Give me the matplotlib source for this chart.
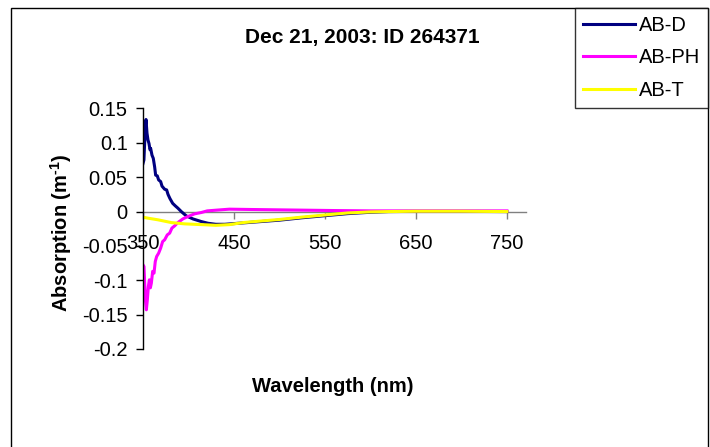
import matplotlib
matplotlib.use("Agg")
import matplotlib.pyplot as plt
from matplotlib.patches import Rectangle

plt.rcParams['font.family'] = ['Liberation Sans', 'DejaVu Sans']
plt.rcParams['mathtext.fontset'] = 'custom'
plt.rcParams['mathtext.rm'] = 'Liberation Sans:bold'
plt.rcParams['mathtext.bf'] = 'Liberation Sans:bold'

title = "Dec 21, 2003: ID 264371"
xlabel = "Wavelength (nm)"
ylabel = "Absorption (m$^{\\text{-1}}$)"
x_ticks = [350, 450, 550, 650, 750]
y_ticks = [0.15, 0.1, 0.05, 0, -0.05, -0.1, -0.15, -0.2]
y_tick_labels = ["0.15", "0.1", "0.05", "0", "-0.05", "-0.1", "-0.15", "-0.2"]

wl_d = [350, 351, 352.6, 353.3, 354.4, 355.5, 356.6, 357.7, 358.4, 359.9, 361.3, 362.8, 363.9,
        365.7, 367.2, 369.4, 370.9, 373.8, 376, 377.5, 379.6, 382.6, 385.5, 388.4, 392.1,
        397.6, 404.9, 414, 421.4, 430, 440, 460, 500, 525, 550, 575, 600, 620, 650, 700, 750]
ab_d = [0.070, 0.075, 0.124, 0.134, 0.114, 0.104, 0.099, 0.090, 0.092, 0.082, 0.0775, 0.065,
        0.053, 0.052, 0.046, 0.0437, 0.037, 0.0325, 0.0315, 0.025, 0.019, 0.012, 0.0083,
        0.0049, 0.0, -0.0063, -0.0107, -0.0145, -0.017, -0.0185, -0.0185, -0.0165, -0.0125,
        -0.009, -0.006, -0.003, -0.001, 0.0, 0.0003, 0.0003, 0.0]

wl_ph = [350, 351.1, 352.6, 353.7, 354.8, 355.9, 357, 358.1, 359.2, 360.6, 362.1, 363.5, 365,
         367.2, 369.4, 371.6, 373.8, 376.7, 379.3, 381.8, 384.8, 388.4, 393.9, 399.4, 406.7,
         414, 420.6, 430, 445, 470, 500, 530, 560, 600, 650, 700, 750]
ab_ph = [-0.0775, -0.080, -0.128, -0.143, -0.128, -0.109, -0.0993, -0.111, -0.104, -0.087,
         -0.0896, -0.0726, -0.0654, -0.0605, -0.0532, -0.0436, -0.0411, -0.0339, -0.0314,
         -0.024, -0.0208, -0.0159, -0.0106, -0.0072, -0.0033, -0.0014, 0.001, 0.002, 0.0035,
         0.003, 0.0025, 0.002, 0.0015, 0.001, 0.001, 0.001, 0.001]

wl_t = [350, 355.5, 366.5, 381.1, 395.8, 419.5, 430, 445, 460, 500, 525, 550, 575, 600, 620,
        650, 700, 750]
ab_t = [-0.0082, -0.0096, -0.012, -0.016, -0.0179, -0.0193, -0.020, -0.019, -0.016, -0.0115,
        -0.008, -0.005, -0.002, -0.0005, 0.0, 0.0005, 0.0005, 0.0]

W, H = 710, 447
FS = 14.5
fig = plt.figure(figsize=(W / 100, H / 100), dpi=100)
fig.patch.set_facecolor('white')

# chart border
fig.add_artist(Rectangle((10.5 / W, -0.05), (708 - 10.5) / W, 1.05 - 8 / H,
                         transform=fig.transFigure, fill=False, edgecolor='black', lw=1.0))

ax = fig.add_axes([143 / W, 1 - 349 / H, (526 - 143) / W, (349 - 108.5) / H])
ax.set_facecolor('none')

l1, = ax.plot(wl_d, ab_d, color='#000080', lw=2.2, label='AB-D')
l2, = ax.plot(wl_ph, ab_ph, color='#FF00FF', lw=2.2, label='AB-PH')
l3, = ax.plot(wl_t, ab_t, color='#FFFF00', lw=2.2, label='AB-T')

ax.set_xlim(350, 771)
ax.set_ylim(-0.2, 0.15)
ax.set_xticks(x_ticks)
ax.set_xticklabels([str(v) for v in x_ticks])
ax.set_yticks(y_ticks)
ax.set_yticklabels(y_tick_labels)

for s in ['top', 'right']:
    ax.spines[s].set_visible(False)
ax.spines['bottom'].set_position(('data', 0))
ax.spines['bottom'].set_color('#808080')
ax.spines['bottom'].set_linewidth(1.0)
ax.spines['left'].set_color('black')
ax.spines['left'].set_linewidth(1.0)
ax.spines['bottom'].set_zorder(1)

ax.tick_params(axis='x', direction='out', length=5, width=1.0, color='#808080',
               labelsize=FS, pad=11)
ax.tick_params(axis='y', direction='out', length=5, width=1.0, color='black',
               labelsize=FS, pad=6)

fig.text(362 / W, 1 - 38 / H, title, ha='center', va='center', fontsize=FS + 0.5,
         fontweight='bold')
fig.text(333 / W, 1 - 387 / H, xlabel, ha='center', va='center', fontsize=FS,
         fontweight='bold')
fig.text(61 / W, 1 - 233 / H, ylabel, ha='center', va='center', fontsize=FS,
         fontweight='bold', rotation=90)

leg = fig.legend(handles=[l1, l2, l3], loc='upper right',
                 bbox_to_anchor=(708 / W, 1 - 8 / H), frameon=True, fancybox=False,
                 edgecolor='black', fontsize=FS, handlelength=2.6, handletextpad=0.2,
                 labelspacing=0.68, borderpad=0.38, borderaxespad=0.0)
leg.get_frame().set_linewidth(1.0)

fig.savefig('out.png', dpi=100, facecolor='white')
